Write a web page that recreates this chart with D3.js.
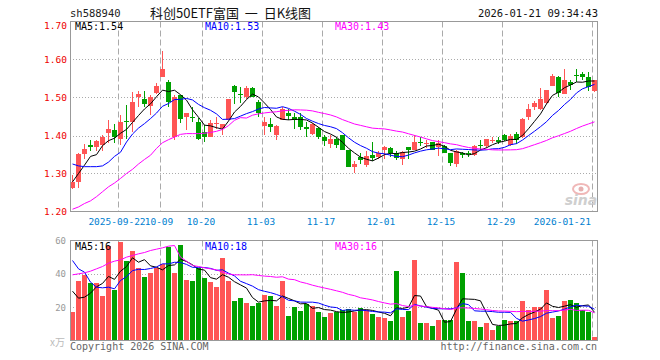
<!DOCTYPE html>
<html><head><meta charset="utf-8">
<script src="https://cdn.jsdelivr.net/npm/d3@7/dist/d3.min.js"></script>
<style>body{margin:0;background:#fff} svg{display:block} .pre{white-space:pre}</style>
</head><body>
<svg id="c" width="660" height="360"></svg>
<script>
const dates = [
"2025-09-10","2025-09-11","2025-09-12","2025-09-15","2025-09-16","2025-09-17","2025-09-18","2025-09-19",
"2025-09-22","2025-09-23","2025-09-24","2025-09-25","2025-09-26","2025-09-29","2025-09-30",
"2025-10-09","2025-10-10","2025-10-13","2025-10-14","2025-10-15","2025-10-16","2025-10-17",
"2025-10-20","2025-10-21","2025-10-22","2025-10-23","2025-10-24","2025-10-27","2025-10-28","2025-10-29","2025-10-30","2025-10-31",
"2025-11-03","2025-11-04","2025-11-05","2025-11-06","2025-11-07","2025-11-10","2025-11-11","2025-11-12","2025-11-13","2025-11-14",
"2025-11-17","2025-11-18","2025-11-19","2025-11-20","2025-11-21","2025-11-24","2025-11-25","2025-11-26","2025-11-27","2025-11-28",
"2025-12-01","2025-12-02","2025-12-03","2025-12-04","2025-12-05","2025-12-08","2025-12-09","2025-12-10","2025-12-11","2025-12-12",
"2025-12-15","2025-12-16","2025-12-17","2025-12-18","2025-12-19","2025-12-22","2025-12-23","2025-12-24","2025-12-25","2025-12-26",
"2025-12-29","2025-12-30","2025-12-31","2026-01-05","2026-01-06","2026-01-07","2026-01-08","2026-01-09",
"2026-01-12","2026-01-13","2026-01-14","2026-01-15","2026-01-16","2026-01-19","2026-01-20","2026-01-21"];

const open = [1.262,1.278,1.351,1.374,1.369,1.374,1.406,1.414,1.391,1.438,
1.436,1.502,1.497,1.477,1.511,1.553,1.541,1.395,1.506,1.449,
1.450,1.436,1.408,1.396,1.430,1.421,1.440,1.530,1.509,1.502,
1.524,1.489,1.425,1.430,1.401,1.440,1.460,1.449,1.449,1.423,
1.404,1.421,1.396,1.377,1.390,1.401,1.361,1.318,1.344,1.322,
1.348,1.344,1.363,1.368,1.353,1.337,1.369,1.361,1.382,1.380,
1.382,1.370,1.372,1.353,1.325,1.353,1.354,1.348,1.376,1.372,
1.388,1.389,1.401,1.375,1.405,1.395,1.449,1.475,1.471,1.486,
1.530,1.554,1.509,1.541,1.559,1.561,1.553,1.518];
const high = [1.296,1.353,1.377,1.389,1.389,1.401,1.440,1.430,1.454,1.480,
1.515,1.518,1.518,1.506,1.537,1.622,1.546,1.506,1.506,1.458,
1.474,1.445,1.427,1.440,1.449,1.430,1.496,1.532,1.528,1.530,
1.528,1.493,1.449,1.447,1.427,1.474,1.471,1.458,1.458,1.436,
1.432,1.423,1.401,1.401,1.395,1.401,1.361,1.333,1.353,1.360,
1.382,1.359,1.372,1.370,1.359,1.359,1.369,1.401,1.395,1.388,
1.382,1.389,1.375,1.354,1.361,1.357,1.359,1.375,1.388,1.390,
1.396,1.396,1.404,1.404,1.410,1.445,1.482,1.490,1.526,1.519,
1.561,1.556,1.576,1.546,1.574,1.568,1.568,1.547];
const low = [1.258,1.262,1.339,1.359,1.359,1.359,1.379,1.379,1.375,1.392,
1.410,1.475,1.475,1.454,1.509,1.553,1.474,1.389,1.432,1.414,
1.436,1.388,1.383,1.395,1.418,1.401,1.440,1.484,1.486,1.497,
1.500,1.449,1.401,1.410,1.389,1.440,1.440,1.418,1.414,1.395,
1.401,1.390,1.373,1.366,1.368,1.363,1.318,1.302,1.325,1.318,
1.333,1.338,1.338,1.344,1.335,1.322,1.337,1.361,1.372,1.366,
1.361,1.346,1.353,1.319,1.318,1.341,1.344,1.346,1.363,1.366,
1.381,1.377,1.386,1.372,1.377,1.394,1.442,1.468,1.468,1.484,
1.530,1.502,1.509,1.519,1.541,1.547,1.517,1.515];
const close = [1.278,1.351,1.364,1.370,1.385,1.396,1.417,1.396,1.435,1.436,
1.488,1.508,1.482,1.502,1.530,1.575,1.489,1.500,1.443,1.458,
1.449,1.390,1.396,1.434,1.434,1.430,1.496,1.515,1.508,1.524,
1.502,1.458,1.436,1.423,1.425,1.471,1.451,1.442,1.423,1.417,
1.430,1.396,1.386,1.390,1.375,1.363,1.318,1.325,1.335,1.346,
1.342,1.355,1.370,1.353,1.341,1.357,1.361,1.382,1.381,1.381,
1.363,1.379,1.354,1.328,1.360,1.349,1.353,1.372,1.375,1.390,
1.389,1.383,1.389,1.398,1.388,1.443,1.471,1.486,1.496,1.519,
1.556,1.512,1.546,1.532,1.558,1.553,1.528,1.546];
const volume = [17,36,39.4,34.4,34.4,27,57,30.6,59,48,
53.6,43.6,38.4,40.4,43.6,46,56.4,40.4,57.6,36.6,
36,43.6,37.4,35,32,49.4,36,24,25.4,22.4,
21,22.4,27.6,27,21,35.6,15,20.4,18,22,
21,17.4,14.4,16.4,17.4,18.4,19,17.4,19.4,18.4,
16,14.4,13.4,12,42,14.4,18,48.6,10.4,10.4,
9,12.6,12.4,12.4,47.4,40.4,11.6,11.6,8,10.4,
6.6,8.6,12.6,11.6,11.6,23.6,18.6,20,20,30.6,
13.4,15,24,24.6,22.4,18.6,17,2];

// moving-average values at the left edge (window reaches before the first shown day)
const ma5Head = [1.278,1.300,1.322,1.345];
const ma10Head = [1.325,1.320,1.318,1.318,1.318,1.320,1.330,1.345,1.356];
const ma30Head = [1.206,1.212,1.221,1.228,1.239,1.252,1.265,1.275,1.287,1.300,
1.311,1.325,1.337,1.348,1.366,1.381,1.389,1.396,1.403,1.405,
1.405,1.405,1.406,1.408,1.411,1.416,1.426,1.440,1.447];
const vma5Head = [29.6,25.4,26,28.4];
const vma10Head = [48,43,41,35,32,31.6,32,31,36];
const vma30Head = [39.4,40,40.6,41.6,43,44.4,46.4,47.6,48.4,50,
51,52,52.8,54,54.8,55.6,56.6,57,50,47.6,
45,44.4,43.6,43,42.4,41,40,39.4,39.4];

const tickDates = ["2025-09-22","2025-10-09","2025-10-20","2025-11-03","2025-11-17","2025-12-01","2025-12-15","2025-12-29","2026-01-21"];
const tickLabels = ["2025-09-22","10-09","10-20","11-03","11-17","12-01","12-15","12-29","2026-01-21"];
const priceTicks = [1.2,1.3,1.4,1.5,1.6,1.7];
const volTicks = [20,40,60];
const priceMaLabels = ["MA5:1.54","MA10:1.53","MA30:1.43"];
const volMaLabels = ["MA5:16","MA10:18","MA30:16"];

const RED = "#ff5555", GREEN = "#00a000";
const maColors = ["#000000","#0000ff","#ff00ff"];
const MONO = "'DejaVu Sans Mono', monospace";

const svg = d3.select("#c");
const n = dates.length;
const x = d3.scaleBand().domain(d3.range(n)).range([70, 598]).padding(0);
const yP = d3.scaleLinear().domain([1.2, 1.7]).range([211.5, 21.5]);
const yV = d3.scaleLinear().domain([0, 60]).range([340.5, 240.5]);
const bw = x.bandwidth() - 1;
const cx = i => x(i) + 2.5;

function ma(arr, w, head) {
  return arr.map((v, i) => i < w - 1 ? head[i] : d3.mean(arr.slice(i - w + 1, i + 1)));
}

const tickIdx = tickDates.map(d => dates.indexOf(d));

// grids
const grid = svg.append("g");
[[21.5, 211.5], [240.5, 340.5]].forEach(([t, b]) => {
  grid.selectAll(null).data(tickIdx).enter().append("line")
    .attr("x1", i => x(i) + 0.5).attr("x2", i => x(i) + 0.5)
    .attr("y1", t).attr("y2", b)
    .attr("stroke", "#aaa").attr("stroke-dasharray", "6,3");
});
grid.selectAll(null).data([1.3, 1.4, 1.5, 1.6]).enter().append("line")
  .attr("x1", 70).attr("x2", 598).attr("y1", d => Math.round(yP(d)) + 0.5).attr("y2", d => Math.round(yP(d)) + 0.5)
  .attr("stroke", "#aaa").attr("stroke-dasharray", "1,2");
grid.selectAll(null).data([20, 40]).enter().append("line")
  .attr("x1", 70).attr("x2", 598).attr("y1", d => Math.round(yV(d)) + 0.5).attr("y2", d => Math.round(yV(d)) + 0.5)
  .attr("stroke", "#aaa").attr("stroke-dasharray", "1,2");

// sina watermark
const wm = svg.append("g");
wm.append("ellipse").attr("cx", 581).attr("cy", 189).attr("rx", 8).attr("ry", 5)
  .attr("fill", "none").attr("stroke", "#f0b8b8").attr("stroke-width", 2);
wm.append("circle").attr("cx", 581).attr("cy", 189).attr("r", 2.5).attr("fill", "#e6b0b0");
wm.append("text").attr("x", 581).attr("y", 205).attr("text-anchor", "middle")
  .attr("font-family", "'DejaVu Sans', sans-serif").attr("font-style", "italic").attr("font-weight", "bold")
  .attr("font-size", 14).attr("fill", "#cfcfcf").text("sina");

// clip
svg.append("clipPath").attr("id", "cp").append("rect").attr("x", 70).attr("y", 21).attr("width", 528).attr("height", 191);
svg.append("clipPath").attr("id", "cv").append("rect").attr("x", 70).attr("y", 240).attr("width", 528).attr("height", 101);

const up = i => close[i] >= open[i];

// candles
const cg = svg.append("g").attr("clip-path", "url(#cp)");
const idx = d3.range(n);
cg.selectAll(".wick").data(idx).enter().append("line")
  .attr("x1", cx).attr("x2", cx)
  .attr("y1", i => Math.round(yP(high[i]))).attr("y2", i => Math.round(yP(low[i])))
  .attr("stroke", i => up(i) ? RED : GREEN).attr("stroke-width", 1);
cg.selectAll(".body").data(idx).enter().append("rect")
  .attr("x", i => x(i)).attr("width", bw)
  .attr("y", i => Math.round(yP(Math.max(open[i], close[i]))))
  .attr("height", i => Math.max(1, Math.round(yP(Math.min(open[i], close[i]))) - Math.round(yP(Math.max(open[i], close[i])))))
  .attr("fill", i => up(i) ? RED : GREEN);

// price MAs
const pm = [ma(close, 5, ma5Head), ma(close, 10, ma10Head), ma(close, 30, ma30Head)];
const lineP = d3.line().x((d, i) => cx(i)).y(d => yP(d));
pm.forEach((arr, k) => cg.append("path").attr("d", lineP(arr)).attr("fill", "none")
  .attr("stroke", maColors[k]).attr("stroke-width", 1));

// volume
const vg = svg.append("g").attr("clip-path", "url(#cv)");
vg.selectAll(".vb").data(idx).enter().append("rect")
  .attr("x", i => x(i)).attr("width", bw)
  .attr("y", i => Math.round(yV(volume[i]))).attr("height", i => 340 - Math.round(yV(volume[i])) + 0.5)
  .attr("fill", i => up(i) ? RED : GREEN);
const vm = [ma(volume, 5, vma5Head), ma(volume, 10, vma10Head), ma(volume, 30, vma30Head)];
const lineV = d3.line().x((d, i) => cx(i)).y(d => yV(d));
vm.forEach((arr, k) => vg.append("path").attr("d", lineV(arr)).attr("fill", "none")
  .attr("stroke", maColors[k]).attr("stroke-width", 1));

// frames
svg.append("rect").attr("x", 70.5).attr("y", 21.5).attr("width", 527).attr("height", 190)
  .attr("fill", "none").attr("stroke", "#999");
svg.append("rect").attr("x", 70.5).attr("y", 240.5).attr("width", 527).attr("height", 100)
  .attr("fill", "none").attr("stroke", "#999");

// price axis labels
svg.selectAll(".pl").data(priceTicks).enter().append("text")
  .attr("x", 67).attr("y", d => Math.max(yP(d), 25) + 3.5).attr("text-anchor", "end")
  .attr("font-family", MONO).attr("font-size", 9.5).attr("fill", "#ee0000")
  .text(d => d.toFixed(2));
// volume axis labels
svg.selectAll(".vl").data(volTicks).enter().append("text")
  .attr("x", 66).attr("y", d => yV(d) + 3.5).attr("text-anchor", "end")
  .attr("font-family", MONO).attr("font-size", 9).attr("fill", "#999")
  .text(d => d);
svg.append("text").attr("x", 65).attr("y", 346).attr("text-anchor", "end")
  .attr("font-family", "'Noto Sans CJK SC', sans-serif").attr("font-size", 10).attr("fill", "#bbb").text("x万");

// date labels
svg.selectAll(".dl").data(tickIdx).enter().append("text")
  .attr("x", i => x(i) - 1)
  .attr("y", 225).attr("text-anchor", (i, k) => k === tickIdx.length - 1 ? "end" : "middle")
  .attr("font-family", MONO).attr("font-size", 9.5).attr("fill", "#0080d0")
  .text((i, k) => tickLabels[k]);

// MA labels
const maX = [75, 205, 335];
svg.selectAll(".ml").data(priceMaLabels).enter().append("text")
  .attr("x", (d, k) => maX[k]).attr("y", 30).attr("font-family", MONO).attr("font-size", 10)
  .attr("fill", (d, k) => maColors[k]).text(d => d);
svg.selectAll(".mv").data(volMaLabels).enter().append("text")
  .attr("x", (d, k) => maX[k]).attr("y", 249.5).attr("font-family", MONO).attr("font-size", 10)
  .attr("fill", (d, k) => maColors[k]).text(d => d);

// titles
svg.append("text").attr("x", 70).attr("y", 17).attr("font-family", MONO).attr("font-size", 10.5)
  .attr("fill", "#222").text("sh588940");
svg.append("text").attr("class", "pre").attr("x", 150).attr("y", 18).attr("font-family", "'Noto Sans CJK SC', sans-serif").attr("font-size", 13)
  .attr("fill", "#111").text("科创50ETF富国  一  日K线图");
svg.append("text").attr("x", 598).attr("y", 17).attr("text-anchor", "end").attr("font-family", MONO).attr("font-size", 10.5)
  .attr("fill", "#111").text("2026-01-21 09:34:43");

// footer
svg.append("text").attr("x", 70).attr("y", 349.5).attr("font-family", MONO).attr("font-size", 10)
  .attr("fill", "#666").text("Copyright 2026 SINA.COM");
svg.append("text").attr("x", 597).attr("y", 349.5).attr("text-anchor", "end").attr("font-family", MONO).attr("font-size", 10)
  .attr("fill", "#666").text("http://finance.sina.com.cn");
</script>
</body></html>
